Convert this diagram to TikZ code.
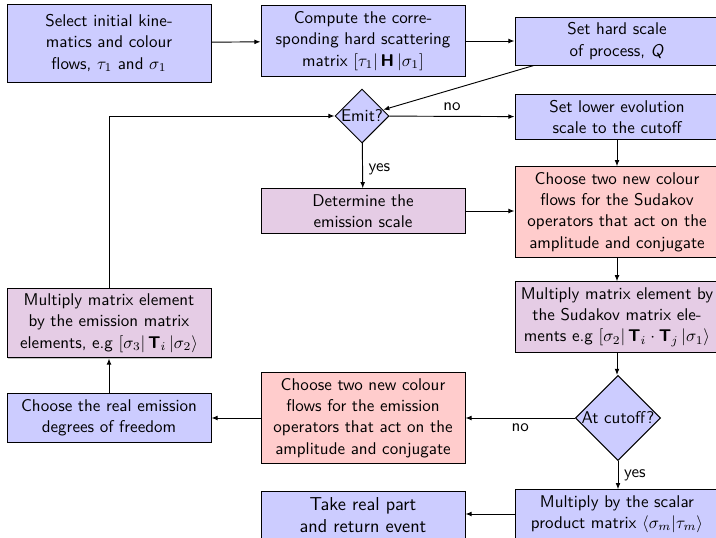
\documentclass[tikz,border=0pt]{standalone}
\usetikzlibrary{shapes.geometric,arrows.meta,shadows}
\newcommand{\sfb}[1]{\mbox{\sffamily\bfseries #1}}
\begin{document}
\begin{tikzpicture}[x=0.5882pt,y=-0.5882pt,
  box/.style={draw, line width=0.55pt, text width=113.3pt, inner xsep=3.33pt, align=center,
    font=\sffamily\fontsize{10}{12.5}\selectfont,
    drop shadow={shadow xshift=0.6pt,shadow yshift=-0.6pt,fill=black!45,opacity=0.5}},
  bluebox/.style={box, fill=blue!20},
  redbox/.style={box, fill=red!20},
  violetbox/.style={box, fill=violet!20},
  decision/.style={diamond, aspect=1, inner sep=0pt, draw, line width=0.55pt, fill=blue!20,
    font=\sffamily\fontsize{10}{12}\selectfont},
  conn/.style={-{Latex[length=3.6pt,width=2.8pt]}, line width=0.55pt},
  lab/.style={font=\sffamily\fontsize{10}{12}\selectfont}
]
\useasboundingbox (0,0) rectangle (716,537);

\node[bluebox, minimum height=45.9pt] (sel) at (109,43) {Select initial kine-\\matics and colour\\flows, $\tau_1$ and $\sigma_1$};
\node[bluebox] (comp) at (363,41) {Compute the corre-\\sponding hard scattering\\matrix $[\tau_1|\,\sfb{H}\,|\sigma_1]$};
\node[bluebox] (hard) at (617,41) {Set hard scale\\of process, \textit{Q}};
\node[decision] (emit) at (362,116) {Emit?};
\node[bluebox] (lower) at (617,117) {Set lower evolution\\scale to the cutoff};
\node[violetbox] (det) at (363,211) {Determine the\\emission scale};
\node[redbox] (sud) at (617,212) {Choose two new colour\\flows for the Sudakov\\operators that act on the\\amplitude and conjugate};
\node[violetbox] (mulsud) at (617,317) {Multiply matrix element by\\the Sudakov matrix ele-\\ments e.g $[\sigma_2|\,\sfb{T}_i\cdot\sfb{T}_j\,|\sigma_1\rangle$};
\node[decision] (cut) at (618,418) {At cutoff?};
\node[redbox] (chem) at (363,418) {Choose two new colour\\flows for the emission\\operators that act on the\\amplitude and conjugate};
\node[bluebox] (real) at (109,418) {Choose the real emission\\degrees of freedom};
\node[violetbox] (mulem) at (109,323) {Multiply matrix element\\by the emission matrix\\elements, e.g $[\sigma_3|\,\sfb{T}_i\,|\sigma_2\rangle$};
\node[bluebox, font=\sffamily\fontsize{11}{13}\selectfont] (take) at (363,515) {Take real part\\and return event};
\node[bluebox] (scal) at (617,514) {Multiply by the scalar\\product matrix $\langle\sigma_m|\tau_m\rangle$};

\draw[conn] (sel) -- (comp);
\draw[conn] (comp) -- (hard);
\draw[conn] (hard) -- (emit);
\draw[conn] (emit) -- node[lab, above] {no} (lower);
\draw[conn] (emit) -- node[lab, right, yshift=-2pt] {yes} (det);
\draw[conn] (det) -- (det -| sud.west);
\draw[conn] (lower) -- (sud);
\draw[conn] (sud) -- (mulsud);
\draw[conn] (mulsud) -- (mulsud |- cut.north);
\draw[conn] (cut) -- node[lab, below] {no} (chem);
\draw[conn] (cut.south) -- node[lab, right] {yes} (cut.south |- scal.north);
\draw[conn] (chem) -- (real);
\draw[conn] (real) -- (mulem);
\draw[conn] (mulem.north) |- (emit.west);
\draw[conn] (scal) -- (scal -| take.east);
\end{tikzpicture}
\end{document}
